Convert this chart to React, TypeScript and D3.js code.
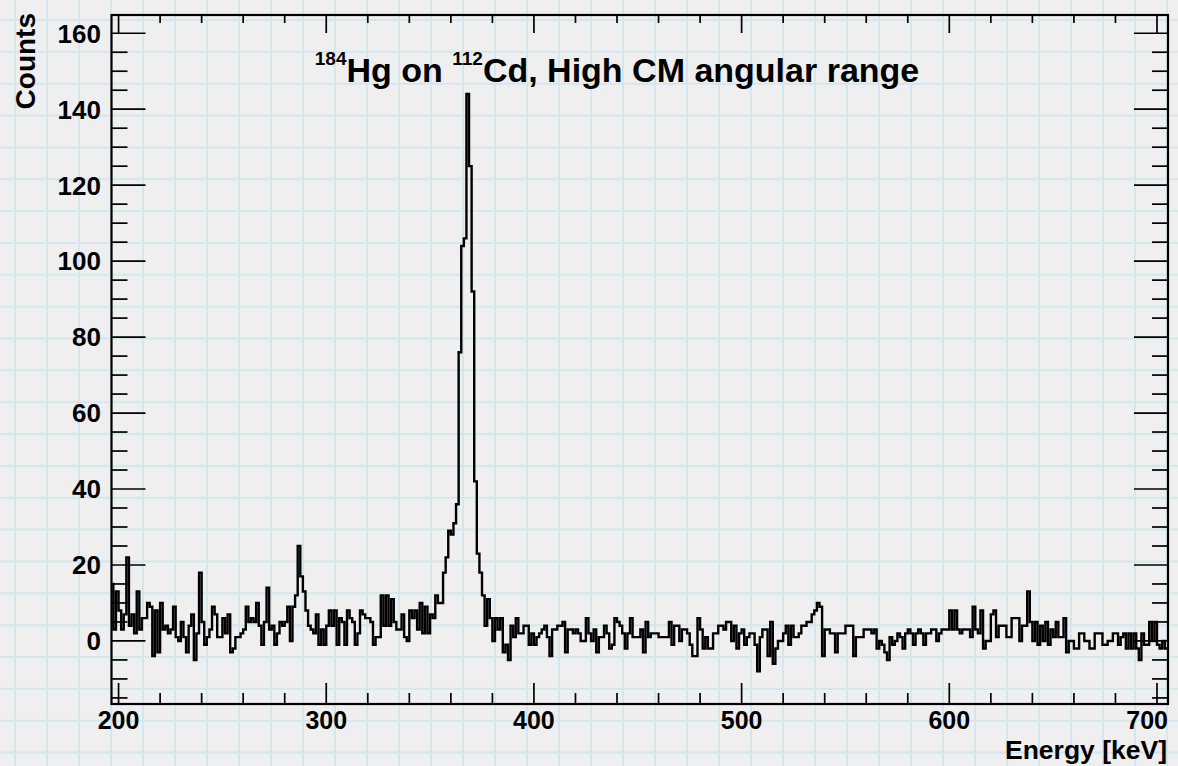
import React from 'react';
import * as d3 from 'd3';

// Histogram binning (keV)
const BIN_START = 196.25;
const BIN_WIDTH = 1.25;

// Background-subtracted counts, 1.25 keV bins
const counts196to300 = [
  15, 3, 13,
  8, 3, 7, 22, 4, 7, 2, 13,
  3, 6, 6, 10, 9, -4, 8, -3,
  10, 3, 4, 2, 3, 9, 1, 0,
  5, 1, -3, 4, 7, -5, 2, 18,
  5, -1, 1, 3, 9, 7, 1, 1,
  6, 2, 7, -3, -2, 1, 1, 2,
  3, 9, 5, 6, 5, 10, 4, -1,
  5, 14, 3, 4, -1, 2, 5, 4,
  5, 9, 0, 9, 12, 25, 17, 13,
  8, 4, 3, 2, 7, -1, 3, -1,
];
const counts300to400 = [
  4, 8, 4, 8, -1, 6, 5, -1,
  8, 6, 5, -1, 2, 8, 7, 6,
  6, 5, -1, 1, 1, 12, 4, 12,
  4, 11, 5, 3, 3, 7, 1, 0,
  8, 6, 8, 3, 10, 2, 9, 2,
  7, 6, 12, 10, 10, 18, 22, 29,
  28, 31, 36, 76, 104, 106, 144, 125,
  92, 42, 23, 18, 12, 4, 11, 6,
  0, 6, 3, 6, -3, -1, -5, 4,
  1, 6, 2, 2, 4, 4, -1, 2,
];
const counts400to500 = [
  -1, 1, 2, 3, 4, 1, -4, 3,
  3, 4, 4, 5, -3, 3, 3, 2,
  3, 2, 0, 0, 6, 2, 0, 3,
  -3, 1, 1, 4, 2, -2, -1, 6,
  5, 4, 2, -2, 2, 6, 1, 1,
  1, 3, -3, 5, 1, 2, 2, 2,
  1, 1, 1, 1, 5, -1, 4, 4,
  0, 3, 3, 2, -1, -4, -4, 6,
  3, -2, 1, -2, -2, 2, 2, 4,
  4, 3, 5, 5, 0, 4, -2, 2,
];
const counts500to600 = [
  3, -1, 1, 2, 2, -1, -8, 1,
  3, 3, -4, 5, -6, -2, 0, 0,
  2, 4, -1, 4, 1, 1, 2, 4,
  4, 5, 5, 7, 8, 10, 9, -4,
  3, 3, 2, 2, -3, 2, 2, 2,
  4, 4, 4, -4, 1, 1, 1, 3,
  3, 3, 2, 3, -2, 0, -1, -3,
  -5, 1, -1, 0, 2, 1, -2, 2,
  3, 2, -1, 2, 3, 2, -1, 2,
  2, 3, 3, 0, 2, 3, 3, 3,
];
const counts600to705 = [
  8, 3, 8, 3, 2, 3, 3, 3,
  1, 9, 3, 2, 8, -2, 0, 0,
  7, 8, 1, 4, 4, 4, 1, 1,
  6, 6, 6, 0, 4, 4, 13, 5,
  0, 5, -1, 4, 0, 5, -1, 3,
  1, 5, 1, 1, 6, -3, 0, 0,
  -2, -2, 2, 2, 0, 0, -2, -2,
  2, 2, 2, -1, -1, 0, 0, 2,
  2, -1, 1, 2, -2, 2, -2, 2,
  -2, -5, 2, -1, -1, 5, 0, 5,
  -1, -2, 0, -2,
];
const counts = [
  ...counts196to300,
  ...counts300to400,
  ...counts400to500,
  ...counts500to600,
  ...counts600to705,
];

const X_DOMAIN: [number, number] = [196.6, 705.3];
const Y_DOMAIN: [number, number] = [-16.6, 164.8];
const xMajorTicks = [200, 300, 400, 500, 600, 700];
const yMajorTicks = [0, 20, 40, 60, 80, 100, 120, 140, 160];

const TITLE_MAIN_1 = 'Hg on ';
const TITLE_SUP_1 = '184';
const TITLE_SUP_2 = '112';
const TITLE_MAIN_2 = 'Cd, High CM angular range';
const X_TITLE = 'Energy [keV]';
const Y_TITLE = 'Counts';

const W = 1178;
const H = 766;
const L = 111.5;
const R = 1168;
const T = 15;
const B = 704;
const FONT = "'Liberation Sans', Arial, Helvetica, sans-serif";

export default function App() {
  const x = d3.scaleLinear().domain(X_DOMAIN).range([L, R]);
  const y = d3.scaleLinear().domain(Y_DOMAIN).range([B, T]);

  const pts: [number, number][] = counts.map((c, i) => [BIN_START + i * BIN_WIDTH, c]);
  pts.push([BIN_START + counts.length * BIN_WIDTH, counts[counts.length - 1]]);
  const line = d3
    .line<[number, number]>()
    .x((d) => x(d[0]))
    .y((d) => y(d[1]))
    .curve(d3.curveStepAfter);

  const xMinor = d3.range(200, 705.3, 20).filter((v) => !xMajorTicks.includes(v));
  const yMinor = d3.range(-15, 165, 5).filter((v) => !yMajorTicks.includes(v));

  const gridX = d3.range(15, W, 32);
  const gridY = d3.range(20, H, 31.85);

  return (
    <svg
      width={W}
      height={H}
      style={{ position: 'absolute', left: 0, top: 0, display: 'block' }}
      fontFamily={FONT}
    >
      <rect x={0} y={0} width={W} height={H} fill="#efefef" />
      <g stroke="#d5e6ee" strokeWidth={2}>
        {gridX.map((gx) => (
          <line key={'gx' + gx} x1={gx} x2={gx} y1={0} y2={H} />
        ))}
        {gridY.map((gy) => (
          <line key={'gy' + gy} x1={0} x2={W} y1={gy} y2={gy} />
        ))}
      </g>

      <defs>
        <clipPath id="frameClip">
          <rect x={L} y={T} width={R - L} height={B - T} />
        </clipPath>
      </defs>

      <path
        d={line(pts) || ''}
        fill="none"
        stroke="#000"
        strokeWidth={2.4}
        clipPath="url(#frameClip)"
        strokeLinejoin="miter"
      />

      {/* ticks */}
      <g stroke="#000" strokeWidth={1.7}>
        {yMajorTicks.map((v) => (
          <g key={'ym' + v}>
            <line x1={L} x2={L + 34} y1={y(v)} y2={y(v)} />
            <line x1={R} x2={R - 34} y1={y(v)} y2={y(v)} />
          </g>
        ))}
        {yMinor.map((v) => (
          <g key={'yn' + v}>
            <line x1={L} x2={L + 16} y1={y(v)} y2={y(v)} />
            <line x1={R} x2={R - 16} y1={y(v)} y2={y(v)} />
          </g>
        ))}
        {xMajorTicks.map((v) => (
          <g key={'xm' + v}>
            <line x1={x(v)} x2={x(v)} y1={B} y2={B - 21} />
            <line x1={x(v)} x2={x(v)} y1={T} y2={T + 18} />
          </g>
        ))}
        {xMinor.map((v) => (
          <g key={'xn' + v}>
            <line x1={x(v)} x2={x(v)} y1={B} y2={B - 11} />
            <line x1={x(v)} x2={x(v)} y1={T} y2={T + 8} />
          </g>
        ))}
      </g>

      <rect x={L} y={T} width={R - L} height={B - T} fill="none" stroke="#000" strokeWidth={2.2} />

      {/* tick labels */}
      <g fontWeight="bold" fill="#000">
        {yMajorTicks.map((v) => (
          <text key={'yl' + v} x={101} y={y(v)} dy="0.36em" textAnchor="end" fontSize={26}>
            {v}
          </text>
        ))}
        {xMajorTicks.map((v, i) => (
          <text
            key={'xl' + v}
            x={i === xMajorTicks.length - 1 ? R : x(v)}
            y={729}
            fontSize={25}
            textAnchor={i === xMajorTicks.length - 1 ? 'end' : 'middle'}
          >
            {v}
          </text>
        ))}
      </g>

      {/* axis titles */}
      <text
        transform="rotate(-90)"
        x={-13}
        y={35}
        textAnchor="end"
        fontWeight="bold"
        fontSize={28}
        fill="#000"
      >
        {Y_TITLE}
      </text>
      <text x={1167} y={758.5} textAnchor="end" fontWeight="bold" fontSize={26.5} fill="#000">
        {X_TITLE}
      </text>

      {/* title */}
      <text x={617} y={81.5} textAnchor="middle" fontWeight="bold" fontSize={34} fill="#000">
        <tspan fontSize={19} dy={-17}>{TITLE_SUP_1}</tspan>
        <tspan dy={17}>{TITLE_MAIN_1}</tspan>
        <tspan fontSize={19} dy={-17}>{TITLE_SUP_2}</tspan>
        <tspan dy={17}>{TITLE_MAIN_2}</tspan>
      </text>
    </svg>
  );
}
